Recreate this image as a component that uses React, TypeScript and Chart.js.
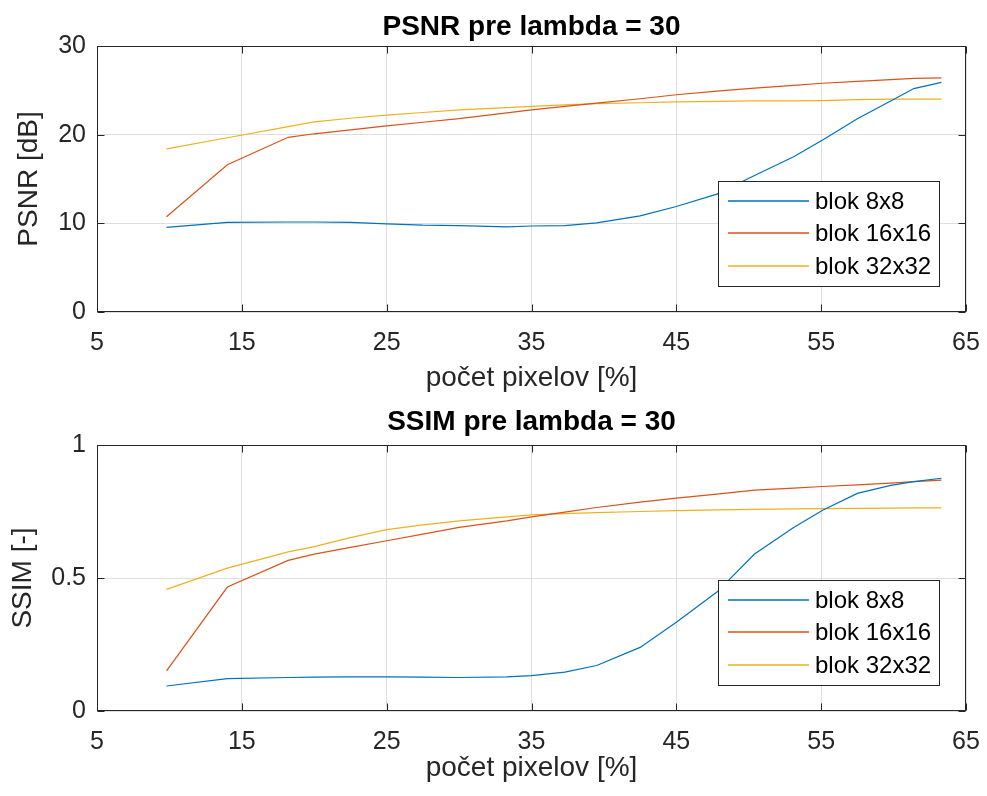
import React, { useEffect, useRef } from "react";
import { Chart, registerables } from "chart.js";

Chart.register(...registerables);

// ---- data ----
const pixelPercent = [9.8, 14.0, 18.2, 20, 22.5, 25, 27.5, 30, 33.3, 35, 37.3, 39.5, 42.5, 45, 47.8, 50.4, 53.1, 55.1, 57.5, 59.8, 61.4, 63.3];

const psnrBlok8 = [9.55, 10.1, 10.15, 10.15, 10.1, 9.95, 9.8, 9.75, 9.6, 9.7, 9.75, 10.05, 10.85, 11.9, 13.3, 15.4, 17.5, 19.4, 21.8, 23.8, 25.2, 25.9];
const psnrBlok16 = [10.75, 16.6, 19.7, 20.1, 20.55, 21.0, 21.4, 21.8, 22.45, 22.8, 23.2, 23.55, 24.05, 24.5, 24.9, 25.25, 25.55, 25.8, 26.0, 26.2, 26.35, 26.4];
const psnrBlok32 = [18.4, 19.65, 20.9, 21.45, 21.85, 22.2, 22.5, 22.8, 23.05, 23.2, 23.35, 23.5, 23.6, 23.7, 23.75, 23.8, 23.82, 23.85, 23.95, 24.0, 24.0, 24.0];

const ssimBlok8 = [0.094, 0.122, 0.126, 0.127, 0.128, 0.128, 0.127, 0.126, 0.128, 0.133, 0.146, 0.171, 0.239, 0.334, 0.447, 0.59, 0.69, 0.755, 0.818, 0.848, 0.862, 0.875];
const ssimBlok16 = [0.151, 0.466, 0.566, 0.59, 0.615, 0.64, 0.665, 0.69, 0.715, 0.73, 0.748, 0.765, 0.785, 0.8, 0.815, 0.83, 0.838, 0.844, 0.85, 0.857, 0.862, 0.868];
const ssimBlok32 = [0.457, 0.537, 0.598, 0.618, 0.652, 0.682, 0.7, 0.715, 0.73, 0.737, 0.742, 0.746, 0.75, 0.753, 0.756, 0.758, 0.76, 0.761, 0.762, 0.763, 0.764, 0.764];

const seriesLabels = ["blok 8x8", "blok 16x16", "blok 32x32"];
const seriesColors = ["#0072BD", "#D95319", "#EDB120"];

const xTicks = [5, 15, 25, 35, 45, 55, 65];
const psnrTicks = [0, 10, 20, 30];
const ssimTicks = [0, 0.5, 1];

const FONT = "'Liberation Sans', Arial, Helvetica, sans-serif";
const AXIS = "#262626";
const GRID = "#dfdfdf";

type PanelProps = {
  top: number;
  height: number;
  title: string;
  yLabel: string;
  series: number[][];
  yTicks: number[];
  titlePadTop: number;
  xTitlePadBottom: number;
  yTitlePadTop: number;
};

const boxPlugin = {
  id: "matlabBox",
  afterDatasetsDraw(chart: any) {
    const { ctx, chartArea } = chart;
    const l = Math.round(chartArea.left) + 0.5;
    const r = Math.round(chartArea.right) - 0.5;
    const t = Math.round(chartArea.top) + 0.5;
    const b = Math.round(chartArea.bottom) - 0.5;
    ctx.save();
    ctx.strokeStyle = AXIS;
    ctx.lineWidth = 1;
    ctx.strokeRect(l, t, r - l, b - t);
    const tl = 7;
    ctx.beginPath();
    const xs = chart.scales.x;
    xs.ticks.forEach((tk: any) => {
      const px = Math.round(xs.getPixelForValue(tk.value)) + 0.5;
      ctx.moveTo(px, b);
      ctx.lineTo(px, b - tl);
      ctx.moveTo(px, t);
      ctx.lineTo(px, t + tl);
    });
    const ys = chart.scales.y;
    ys.ticks.forEach((tk: any) => {
      const py = Math.round(ys.getPixelForValue(tk.value)) + 0.5;
      ctx.moveTo(l, py);
      ctx.lineTo(l + tl, py);
      ctx.moveTo(r, py);
      ctx.lineTo(r - tl, py);
    });
    ctx.stroke();
    ctx.restore();
  },
};

const legendPlugin = {
  id: "matlabLegend",
  afterDraw(chart: any) {
    const { ctx, chartArea } = chart;
    const w = 221;
    const h = 105;
    const right = Math.round(chartArea.right) - 27;
    const bottom = Math.round(chartArea.bottom) - 26;
    const left = right - w;
    const top = bottom - h;
    ctx.save();
    ctx.fillStyle = "#ffffff";
    ctx.fillRect(left, top, w, h);
    ctx.strokeStyle = AXIS;
    ctx.lineWidth = 1;
    ctx.strokeRect(left + 0.5, top + 0.5, w, h);
    ctx.font = `24px ${FONT}`;
    ctx.textBaseline = "middle";
    ctx.textAlign = "left";
    const rows = [19.5, 52, 84.5];
    for (let i = 0; i < seriesLabels.length; i++) {
      const y = Math.round(top + rows[i]);
      ctx.beginPath();
      ctx.strokeStyle = seriesColors[i];
      ctx.lineWidth = 1.5;
      ctx.moveTo(left + 10, y);
      ctx.lineTo(left + 91, y);
      ctx.stroke();
      ctx.fillStyle = "#000000";
      ctx.fillText(seriesLabels[i], left + 97, y + 1);
    }
    ctx.restore();
  },
};

function Panel(p: PanelProps) {
  const ref = useRef<HTMLCanvasElement | null>(null);
  useEffect(() => {
    if (!ref.current) return;
    const areaTop = 46;
    const areaBottom = 312;
    const chart = new Chart(ref.current, {
      type: "line",
      data: {
        datasets: p.series.map((vals, i) => ({
          label: seriesLabels[i],
          data: pixelPercent.map((x, j) => ({ x, y: vals[j] })),
          borderColor: seriesColors[i],
          backgroundColor: seriesColors[i],
          borderWidth: 1.2,
          pointRadius: 0,
          tension: 0,
          fill: false,
        })),
      },
      options: {
        animation: false,
        responsive: false,
        devicePixelRatio: 1,
        layout: { padding: { left: 0, right: 21, top: 0, bottom: 0 } },
        plugins: {
          legend: { display: false },
          tooltip: { enabled: false },
          title: {
            display: true,
            text: p.title,
            fullSize: false,
            color: "#000000",
            font: { family: FONT, size: 28, weight: "bold" },
            padding: { top: p.titlePadTop, bottom: areaTop - p.titlePadTop - 33.6 },
          },
        },
        scales: {
          x: {
            type: "linear",
            min: xTicks[0],
            max: xTicks[xTicks.length - 1],
            afterFit: (s: any) => {
              s.height = p.height - areaBottom;
              s.paddingLeft = 0;
              s.paddingRight = 0;
            },
            afterBuildTicks: (s: any) => {
              s.ticks = xTicks.map((v) => ({ value: v }));
            },
            grid: { color: GRID, drawTicks: false, lineWidth: 1 },
            border: { display: false },
            ticks: {
              color: AXIS,
              font: { family: FONT, size: 25 },
              padding: 16,
              maxRotation: 0,
              callback: (v: any) => String(v),
            },
            title: {
              display: true,
              text: "počet pixelov [%]",
              color: AXIS,
              font: { family: FONT, size: 28 },
              padding: { top: 0, bottom: p.xTitlePadBottom },
            },
          },
          y: {
            type: "linear",
            min: p.yTicks[0],
            max: p.yTicks[p.yTicks.length - 1],
            afterFit: (s: any) => {
              s.width = 97;
              s.paddingTop = 0;
              s.paddingBottom = 0;
            },
            afterBuildTicks: (s: any) => {
              s.ticks = p.yTicks.map((v) => ({ value: v }));
            },
            grid: { color: GRID, drawTicks: false, lineWidth: 1 },
            border: { display: false },
            ticks: {
              color: AXIS,
              font: { family: FONT, size: 25 },
              padding: 11,
              callback: (v: any) => String(v),
            },
            title: {
              display: true,
              text: p.yLabel,
              color: AXIS,
              font: { family: FONT, size: 28 },
              padding: { top: p.yTitlePadTop, bottom: 0 },
            },
          },
        },
      },
      plugins: [boxPlugin, legendPlugin],
    } as any);
    return () => chart.destroy();
  }, []);
  return (
    <canvas
      ref={ref}
      width={987}
      height={p.height}
      style={{ position: "absolute", left: 0, top: p.top, width: 987, height: p.height, display: "block" }}
    />
  );
}

export default function App() {
  return (
    <div style={{ position: "absolute", left: 0, top: 0, width: 987, height: 796, background: "#ffffff", overflow: "hidden" }}>
      <Panel
        top={0}
        height={399}
        title="PSNR pre lambda = 30"
        yLabel="PSNR [dB]"
        series={[psnrBlok8, psnrBlok16, psnrBlok32]}
        yTicks={psnrTicks}
        titlePadTop={10}
        xTitlePadBottom={4.2}
        yTitlePadTop={12.2}
      />
      <Panel
        top={399}
        height={397}
        title="SSIM pre lambda = 30"
        yLabel="SSIM [-]"
        series={[ssimBlok8, ssimBlok16, ssimBlok32]}
        yTicks={ssimTicks}
        titlePadTop={6.5}
        xTitlePadBottom={11}
        yTitlePadTop={6.2}
      />
    </div>
  );
}
